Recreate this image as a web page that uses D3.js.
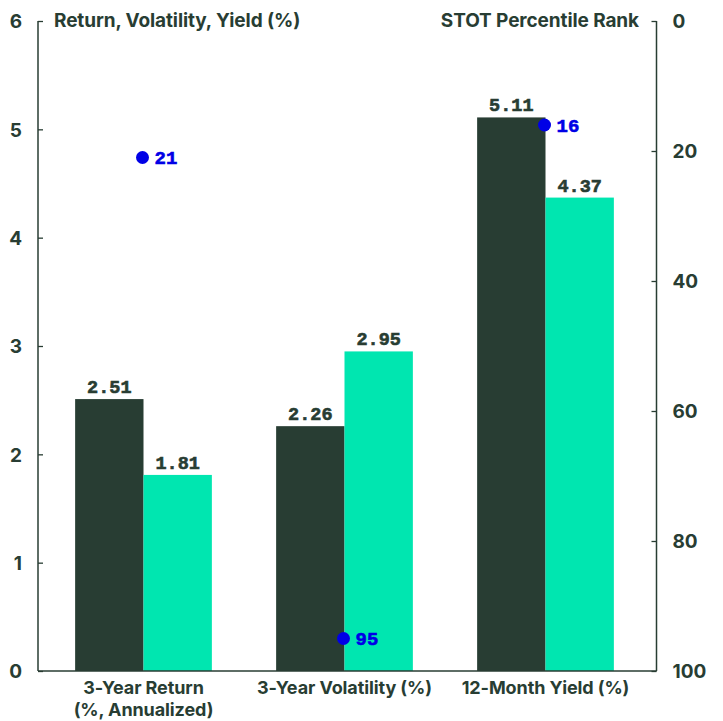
<!DOCTYPE html>
<html>
<head>
<meta charset="utf-8">
<script src="https://cdn.jsdelivr.net/npm/d3@7"></script>
<style>
  html, body { margin: 0; padding: 0; background: #ffffff; }
  svg { display: block; }
  .tick-lbl { font-family: Inter, "Noto Sans", sans-serif; font-weight: 700; font-size: 19px; fill: #283d33; }
  .title { font-family: Inter, "Noto Sans", sans-serif; font-weight: 700; font-size: 19px; fill: #283d33; letter-spacing: -0.1px; }
  .cat { font-family: Inter, "Noto Sans", sans-serif; font-weight: 700; font-size: 18px; fill: #283d33; letter-spacing: -0.1px; }
  .val { font-family: "Liberation Mono", "DejaVu Sans Mono", monospace; font-weight: 700; font-size: 18.5px; fill: #283d33; stroke: #283d33; stroke-width: 0.6px; }
  .rank { font-family: "Liberation Mono", "DejaVu Sans Mono", monospace; font-weight: 700; font-size: 19px; fill: #0000e6; stroke: #0000e6; stroke-width: 0.6px; }
</style>
</head>
<body>
<svg id="chart" width="723" height="721"></svg>
<script>
// Fund metrics: STOT vs. benchmark, plus STOT percentile rank per metric
const categories = ["3-Year Return (%, Annualized)", "3-Year Volatility (%)", "12-Month Yield (%)"];
const categoryLines = [["3-Year Return", "(%, Annualized)"], ["3-Year Volatility (%)"], ["12-Month Yield (%)"]];
const seriesNames = ["STOT", "Category Average"];
const stotValues = [2.51, 2.26, 5.11];
const benchmarkValues = [1.81, 2.95, 4.37];
const percentileRanks = [21, 95, 16];
const leftTicks = [0, 1, 2, 3, 4, 5, 6];
const rightTicks = [0, 20, 40, 60, 80, 100];

const colors = { STOT: "#283d33", "Category Average": "#00e6b0" };
const ink = "#283d33";
const dotColor = "#0000e6";

const svg = d3.select("#chart");

const plot = { left: 38, right: 656.5, top: 21, bottom: 671 };

const x0 = d3.scaleBand().domain(categories).range([43, 646]).padding(0);
const x1 = d3.scaleBand().domain(seriesNames).range([0, x0.bandwidth()]).paddingInner(0).paddingOuter(0.47);
const yL = d3.scaleLinear().domain([0, 6]).range([plot.bottom, plot.top]);
const yR = d3.scaleLinear().domain([0, 100]).range([plot.top, plot.bottom]);

const rows = categories.map((c, i) => ({
  cat: c,
  values: [
    { key: seriesNames[0], v: stotValues[i] },
    { key: seriesNames[1], v: benchmarkValues[i] }
  ],
  rank: percentileRanks[i]
}));

// Bars with value labels
const groups = svg.append("g").selectAll("g")
  .data(rows).join("g")
  .attr("transform", d => `translate(${x0(d.cat)},0)`);

groups.selectAll("rect")
  .data(d => d.values).join("rect")
  .attr("x", d => x1(d.key))
  .attr("width", x1.bandwidth())
  .attr("y", d => yL(d.v))
  .attr("height", d => yL(0) - yL(d.v))
  .attr("fill", d => colors[d.key]);

groups.selectAll("text.val")
  .data(d => d.values).join("text")
  .attr("class", "val")
  .attr("x", d => x1(d.key) + x1.bandwidth() / 2)
  .attr("y", d => yL(d.v) - 6)
  .attr("text-anchor", "middle")
  .text(d => d.v.toFixed(2));

// Left axis
const axisL = svg.append("g").attr("transform", `translate(${plot.left},0)`)
  .call(d3.axisLeft(yL).tickValues(leftTicks).tickSize(-5).tickPadding(16).tickFormat(d3.format("d")));
// Right axis (percentile rank, inverted)
const axisR = svg.append("g").attr("transform", `translate(${plot.right},0)`)
  .call(d3.axisRight(yR).tickValues(rightTicks).tickSize(-5).tickPadding(16).tickFormat(d3.format("d")));

[axisL, axisR].forEach(a => {
  a.select(".domain").attr("stroke", ink).attr("stroke-width", 1.5).attr("d", `M0,${plot.top}V${plot.bottom}`);
  a.selectAll(".tick line").attr("stroke", ink).attr("stroke-width", 1.3);
  a.selectAll(".tick text").attr("class", "tick-lbl").attr("dy", "0.36em");
});

// Baseline
svg.append("line")
  .attr("x1", plot.left).attr("x2", plot.right)
  .attr("y1", plot.bottom).attr("y2", plot.bottom)
  .attr("stroke", ink).attr("stroke-width", 1.5);

// Percentile rank dots
const dots = svg.append("g").selectAll("g").data(rows).join("g");
dots.append("circle")
  .attr("cx", d => x0(d.cat) + x0.bandwidth() / 2 - 1)
  .attr("cy", d => yR(d.rank))
  .attr("r", 6.5)
  .attr("fill", dotColor);
dots.append("text")
  .attr("class", "rank")
  .attr("x", d => x0(d.cat) + x0.bandwidth() / 2 + 11)
  .attr("y", d => yR(d.rank) + 6.5)
  .text(d => d.rank);

// Axis titles
svg.append("text").attr("class", "title").attr("x", 54).attr("y", 27).text("Return, Volatility, Yield (%)");
svg.append("text").attr("class", "title").attr("x", 639).attr("y", 27).attr("text-anchor", "end").text("STOT Percentile Rank");

// Category labels
const cats = svg.append("g").selectAll("text").data(rows).join("text")
  .attr("class", "cat")
  .attr("text-anchor", "middle")
  .attr("x", d => x0(d.cat) + x0.bandwidth() / 2)
  .attr("y", 694);
cats.selectAll("tspan")
  .data((d, i) => categoryLines[i]).join("tspan")
  .attr("x", function () { return this.parentNode.getAttribute("x"); })
  .attr("dy", (d, i) => i === 0 ? 0 : 22)
  .text(d => d);
</script>
</body>
</html>
